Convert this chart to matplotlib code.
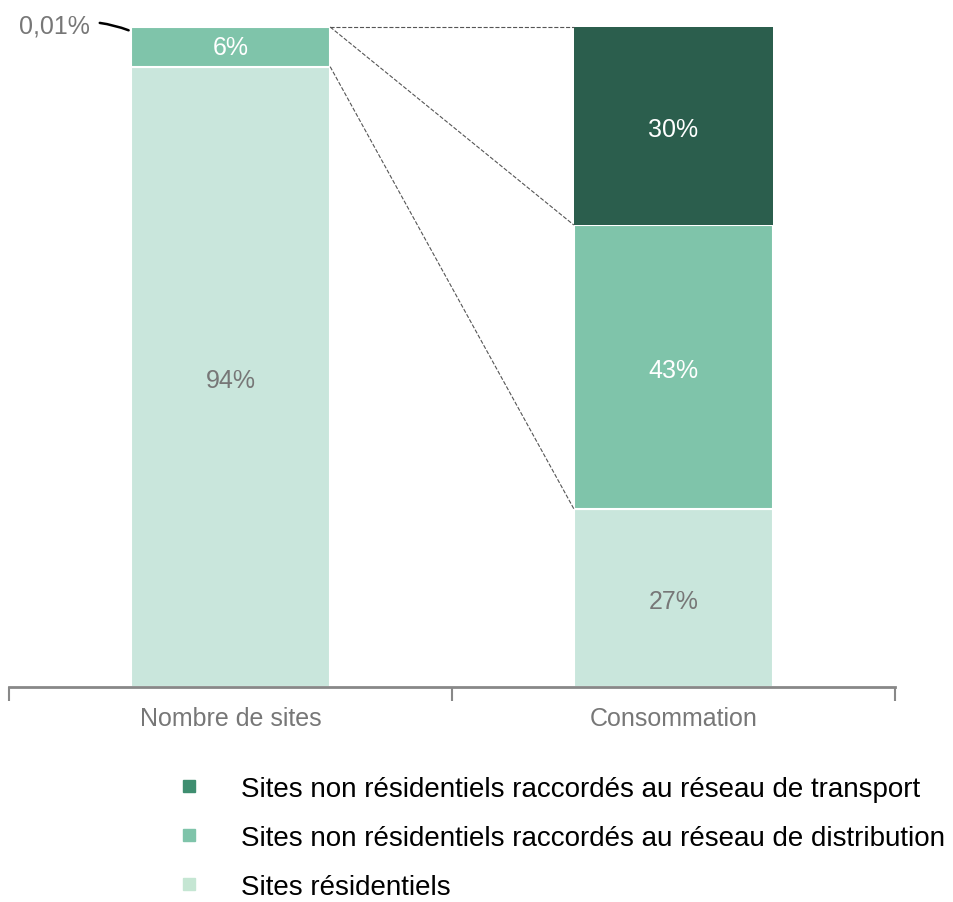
import matplotlib
matplotlib.use("Agg")
from matplotlib import pyplot as plt
from matplotlib.lines import Line2D

plt.rcParams['font.family'] = ['Liberation Sans', 'DejaVu Sans']

categories = ["Nombre de sites", "Consommation"]
residentiels = [93.99, 27]
distribution = [6, 43]
transport = [0.01, 30]
series_names = ["Sites non résidentiels raccordés au réseau de transport",
                "Sites non résidentiels raccordés au réseau de distribution",
                "Sites résidentiels"]
col_transport = "#2b5e4d"
col_distrib = "#7fc4aa"
col_resid = "#c9e6dc"

fig = plt.figure(figsize=(9.54, 9.03), dpi=100)
ax = fig.add_axes([9/954, 1-688/903, 886/954, 660/903])

fs = 18
x = [0, 1]
w = 0.45
ax.bar(x, residentiels, w, color=col_resid, edgecolor="white", linewidth=1.5)
ax.bar(x, distribution, w, bottom=residentiels, color=col_distrib, edgecolor="white", linewidth=1.5)
b2 = [r + d for r, d in zip(residentiels, distribution)]
ax.bar(x, transport, w, bottom=b2, color=col_transport, edgecolor="white", linewidth=0)

# labels in bars
ax.text(0, residentiels[0]/2 - 0.5, "94%", ha="center", va="center", color="#777777", fontsize=fs)
ax.text(0, residentiels[0] + distribution[0]/2, "6%", ha="center", va="center", color="white", fontsize=fs)
ax.text(1, residentiels[1]/2 - 0.5, "27%", ha="center", va="center", color="#777777", fontsize=fs)
ax.text(1, residentiels[1] + distribution[1]/2 - 0.5, "43%", ha="center", va="center", color="white", fontsize=fs)
ax.text(1, b2[1] + transport[1]/2 - 0.5, "30%", ha="center", va="center", color="white", fontsize=fs)

# 0.01% annotation
ax.annotate("0,01%", xy=(-w/2 - 0.005, 99.5), xytext=(-0.317, 100.3),
            ha="right", va="center", color="#777777", fontsize=fs,
            arrowprops=dict(arrowstyle="-", color="black", lw=1.8,
                            connectionstyle="arc3,rad=-0.15", shrinkA=5, shrinkB=0),
            annotation_clip=False)

# dashed connectors
xl = w/2
xr = 1 - w/2
ax.plot([xl, xr], [100, 100], ls="--", color="#555555", lw=0.8, clip_on=False)
ax.plot([xl, xr], [100, b2[1]], ls="--", color="#555555", lw=0.8, clip_on=False)
ax.plot([xl, xr], [residentiels[0], residentiels[1]], ls="--", color="#555555", lw=0.8, clip_on=False)

ax.set_xlim(-0.5, 1.5)
ax.set_ylim(0, 100)
ax.set_yticks([])
ax.set_xticks([-0.5, 0.5, 1.5])
ax.set_xticklabels([])
ax.tick_params(axis="x", length=10, width=1.5, color="#888888", direction="out")
ax.set_xticks(x, minor=True)
ax.set_xticklabels(categories, minor=True)
ax.tick_params(axis="x", which="minor", length=0, pad=14, labelsize=fs, labelcolor="#777777")
for s in ["top", "left", "right"]:
    ax.spines[s].set_visible(False)
ax.spines["bottom"].set_color("#888888")
ax.spines["bottom"].set_linewidth(2)

handles = [Line2D([], [], marker="s", ls="", color=c, markersize=9)
           for c in ["#3f8e70", col_distrib, "#c5e6d3"]]
fig.legend(handles, series_names, loc="upper left", bbox_to_anchor=(172/954, 1-777/903),
           frameon=False, fontsize=20, handletextpad=1.3, labelspacing=0.82,
           handlelength=1.2, borderaxespad=0, borderpad=0)

fig.savefig("out.png", dpi=100)
